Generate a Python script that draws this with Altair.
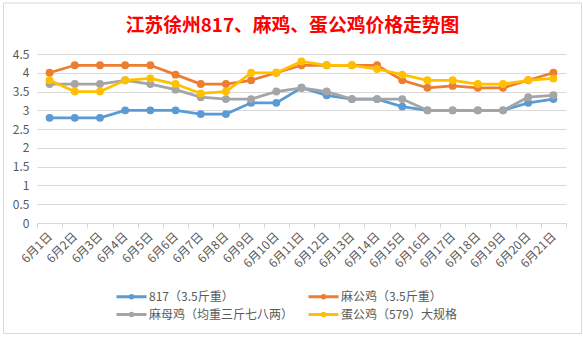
import altair as alt
import pandas as pd

dates = ["6月1日", "6月2日", "6月3日", "6月4日", "6月5日", "6月6日", "6月7日",
         "6月8日", "6月9日", "6月10日", "6月11日", "6月12日", "6月13日", "6月14日",
         "6月15日", "6月16日", "6月17日", "6月18日", "6月19日", "6月20日", "6月21日"]

series_names = ["817（3.5斤重）", "麻公鸡（3.5斤重）", "麻母鸡（均重三斤七八两）", "蛋公鸡（579）大规格"]

s817 = [2.8, 2.8, 2.8, 3.0, 3.0, 3.0, 2.9, 2.9, 3.2, 3.2, 3.6, 3.4, 3.3, 3.3, 3.1, 3.0, 3.0, 3.0, 3.0, 3.2, 3.3]
ma_gong = [4.0, 4.2, 4.2, 4.2, 4.2, 3.95, 3.7, 3.7, 3.8, 4.0, 4.2, 4.2, 4.2, 4.2, 3.8, 3.6, 3.65, 3.6, 3.6, 3.8, 4.0]
ma_mu = [3.7, 3.7, 3.7, 3.8, 3.7, 3.55, 3.35, 3.3, 3.3, 3.5, 3.6, 3.5, 3.3, 3.3, 3.3, 3.0, 3.0, 3.0, 3.0, 3.35, 3.4]
dan_gong = [3.8, 3.5, 3.5, 3.8, 3.85, 3.7, 3.45, 3.5, 4.0, 4.0, 4.3, 4.2, 4.2, 4.1, 3.95, 3.8, 3.8, 3.7, 3.7, 3.8, 3.85]

colors = ["#5B9BD5", "#ED7D31", "#A5A5A5", "#FFC000"]
y_ticks = [0, 0.5, 1, 1.5, 2, 2.5, 3, 3.5, 4, 4.5]

all_values = [s817, ma_gong, ma_mu, dan_gong]
rows = []
for name, vals in zip(series_names, all_values):
    for d, v in zip(dates, vals):
        rows.append({"date": d, "series": name, "value": v})
df = pd.DataFrame(rows)

FONT = "Noto Sans CJK SC"

color_scale = alt.Scale(domain=series_names, range=colors)
x_enc = alt.X("date:N", sort=dates,
              scale=alt.Scale(type="band", paddingInner=0, paddingOuter=0),
              axis=alt.Axis(title=None, labelAngle=-45, labelAlign="right", labelBaseline="middle",
                            labelPadding=6, tickBand="extent", tickSize=5, tickColor="#d9d9d9",
                            domainColor="#d9d9d9", grid=False, labelColor="#595959",
                            labelFontSize=12, labelFont=FONT))
y_enc = alt.Y("value:Q", scale=alt.Scale(domain=[0, 4.5], nice=False),
              axis=alt.Axis(title=None, values=y_ticks, format="~g", domain=False, ticks=False,
                            gridColor="#d9d9d9", labelColor="#595959", labelFontSize=12,
                            labelPadding=8, labelFont=FONT))

# legend symbol: a short line with a dot, drawn from the entry's left edge
legend = alt.Legend(
    title=None, orient="none", legendX=78, legendY=236, direction="horizontal", columns=2,
    columnPadding=8, rowPadding=3, padding=0,
    symbolType="M-1,0L5,0M1.75,0A0.25,0.25,0,1,1,2.25,0A0.25,0.25,0,1,1,1.75,0",
    symbolSize=100, symbolStrokeWidth=3, labelFontSize=12, labelColor="#595959",
    labelFont=FONT, labelLimit=300, labelOffset=21,
)

layers = []
for i, name in enumerate(series_names):
    sub = df[df["series"] == name]
    base = alt.Chart(sub)
    enc_color = alt.Color("series:N", scale=color_scale, legend=legend)
    line = base.mark_line(strokeWidth=2.75).encode(x=x_enc, y=y_enc, color=enc_color)
    pts = base.mark_point(filled=True, size=62, opacity=1).encode(x=x_enc, y=y_enc, color=enc_color)
    layers += [line, pts]

frame = alt.Chart(pd.DataFrame({"a": [0]})).mark_rect(
    fill=None, stroke="#d9d9d9", strokeWidth=1
).encode(x=alt.value(-33.5), x2=alt.value(544.5), y=alt.value(-51), y2=alt.value(279.5))

chart = alt.layer(frame, *layers).properties(
    width=529, height=169,
    title=alt.TitleParams("江苏徐州817、麻鸡、蛋公鸡价格走势图", color="#FF0000", fontSize=18.8,
                          font=FONT, fontWeight="bold", anchor="middle", baseline="bottom",
                          offset=-52, dx=-9),
    padding={"left": 37, "top": 54, "right": 17, "bottom": 115},
    autosize=alt.AutoSizeParams(type="none"),
    background="white",
).configure_view(stroke=None)

chart.save("out.html", embed_options={"renderer": "svg", "actions": False})
